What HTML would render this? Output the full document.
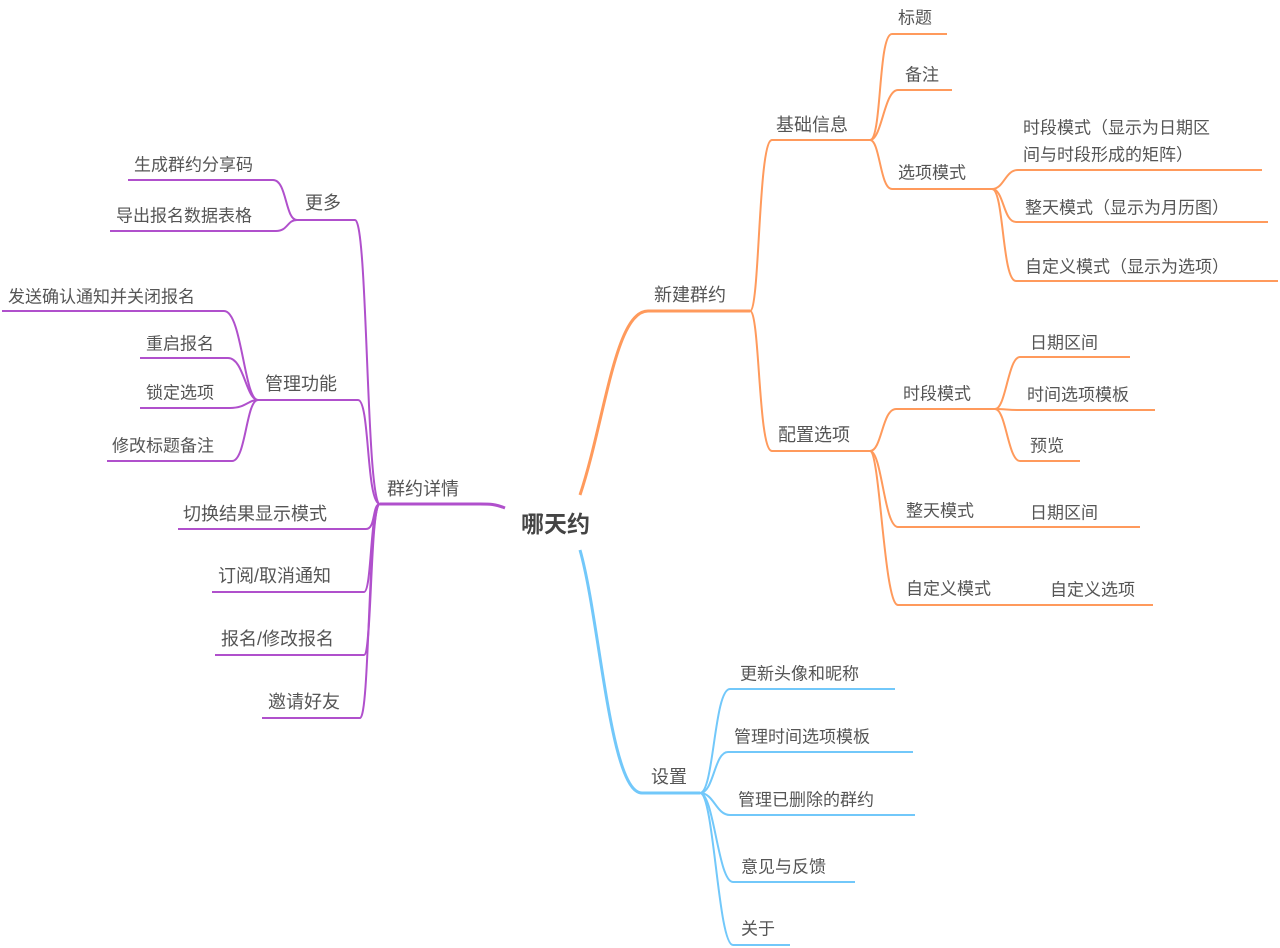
<!DOCTYPE html>
<html><head><meta charset="utf-8"><style>
html,body{margin:0;padding:0;background:#fff;width:1280px;height:948px;overflow:hidden}
svg text{font-family:"Liberation Sans","Noto Sans CJK SC",sans-serif;fill:#555;dominant-baseline:central}
.o{stroke:#FF9A5C;fill:none;stroke-width:2}
.p{stroke:#B050CC;fill:none;stroke-width:2}
.b{stroke:#72C8FA;fill:none;stroke-width:2}
.t1{font-size:19px}.t2{font-size:18px}.t3{font-size:17px}
</style></head><body>
<svg width="1280" height="948" xmlns="http://www.w3.org/2000/svg">
<!-- orange -->
<path class="o" style="stroke-width:3" d="M580,495 C605,420 615,311 648,311 L750,311"/>
<path class="o" d="M750,311 C760,311 758,140 772,140 L870,140"/>
<path class="o" d="M750,311 C760,311 758,451 772,451 L870,451"/>
<path class="o" d="M870,140 C882,140 878,34 892,34 L947,34"/>
<path class="o" d="M870,140 C882,140 884,90 898,90 L952,90"/>
<path class="o" d="M870,140 C880,140 880,189 892,189 L992,189"/>
<path class="o" d="M992,189 C1004,189 1005,170 1018,170 L1262,170"/>
<path class="o" d="M992,189 C1004,189 1003,222 1016,222 L1268,222"/>
<path class="o" d="M992,189 C1004,189 1002,281 1016,281 L1278,281"/>
<path class="o" d="M870,451 C882,451 882,409 896,409 L995,409"/>
<path class="o" d="M870,451 C882,451 884,527 898,527 L995,527"/>
<path class="o" d="M870,451 C880,451 884,605 898,605 L1018,605"/>
<path class="o" d="M995,409 C1006,409 1008,357 1020,357 L1130,357"/>
<path class="o" d="M995,409 C1005,409 1008,410 1020,410 L1155,410"/>
<path class="o" d="M995,409 C1006,409 1008,461 1020,461 L1080,461"/>
<path class="o" d="M995,527 L1140,527"/>
<path class="o" d="M1018,605 L1153,605"/>
<text class="t2" x="654" y="295">新建群约</text>
<text class="t2" x="776" y="125">基础信息</text>
<text class="t2" x="778" y="435">配置选项</text>
<text class="t3" x="898" y="18">标题</text>
<text class="t3" x="905" y="75">备注</text>
<text class="t3" x="898" y="173">选项模式</text>
<text class="t3" x="1023" y="128">时段模式（显示为日期区</text>
<text class="t3" x="1023" y="155">间与时段形成的矩阵）</text>
<text class="t3" x="1025" y="208">整天模式（显示为月历图）</text>
<text class="t3" x="1025" y="267">自定义模式（显示为选项）</text>
<text class="t3" x="903" y="394">时段模式</text>
<text class="t3" x="906" y="511">整天模式</text>
<text class="t3" x="906" y="589">自定义模式</text>
<text class="t3" x="1030" y="343">日期区间</text>
<text class="t3" x="1027" y="395">时间选项模板</text>
<text class="t3" x="1030" y="446">预览</text>
<text class="t3" x="1030" y="513">日期区间</text>
<text class="t3" x="1050" y="590">自定义选项</text>
<!-- blue -->
<path class="b" style="stroke-width:3" d="M580,550 C600,620 610,793 642,793 L700,793"/>
<path class="b" d="M700,793 C714,793 714,689 730,689 L895,689"/>
<path class="b" d="M700,793 C714,793 714,752 728,752 L913,752"/>
<path class="b" d="M700,793 C714,793 716,815 730,815 L915,815"/>
<path class="b" d="M700,793 C714,793 718,882 733,882 L855,882"/>
<path class="b" d="M700,793 C714,793 718,945 733,945 L790,945"/>
<text class="t2" x="651" y="777">设置</text>
<text class="t3" x="740" y="674">更新头像和昵称</text>
<text class="t3" x="734" y="737">管理时间选项模板</text>
<text class="t3" x="738" y="800">管理已删除的群约</text>
<text class="t3" x="741" y="867">意见与反馈</text>
<text class="t3" x="741" y="929">关于</text>
<!-- purple -->
<path class="p" style="stroke-width:3" d="M505,508 C495,504 490,504 480,504 L380,504"/>
<path class="p" d="M380,504 C366,504 368,220 355,220 L297,220"/>
<path class="p" d="M380,504 C366,504 370,400 358,400 L258,400"/>
<path class="p" d="M380,504 C372,504 376,529 366,529 L178,529"/>
<path class="p" d="M380,504 C370,504 372,592 364,592 L212,592"/>
<path class="p" d="M380,504 C370,504 372,655 364,655 L215,655"/>
<path class="p" d="M380,504 C368,504 370,718 360,718 L262,718"/>
<path class="p" d="M297,220 C285,220 287,180 273,180 L128,180"/>
<path class="p" d="M297,220 C287,220 288,231 276,231 L110,231"/>
<path class="p" d="M258,400 C244,400 242,311 224,311 L2,311"/>
<path class="p" d="M258,400 C246,400 244,358 228,358 L140,358"/>
<path class="p" d="M258,400 C248,400 246,408 230,408 L140,408"/>
<path class="p" d="M258,400 C246,400 246,461 232,461 L107,461"/>
<text class="t2" x="387" y="489">群约详情</text>
<text class="t2" x="305" y="203">更多</text>
<text class="t2" x="265" y="384">管理功能</text>
<text class="t2" x="183" y="514">切换结果显示模式</text>
<text class="t2" x="218" y="576">订阅/取消通知</text>
<text class="t2" x="221" y="639">报名/修改报名</text>
<text class="t2" x="268" y="702">邀请好友</text>
<text class="t3" x="134" y="165">生成群约分享码</text>
<text class="t3" x="116" y="216">导出报名数据表格</text>
<text class="t3" x="8" y="297">发送确认通知并关闭报名</text>
<text class="t3" x="146" y="344">重启报名</text>
<text class="t3" x="146" y="393">锁定选项</text>
<text class="t3" x="112" y="446">修改标题备注</text>
<!-- root -->
<text x="521" y="524" style="font-size:23px;font-weight:bold;fill:#444">哪天约</text>
</svg>
</body></html>
